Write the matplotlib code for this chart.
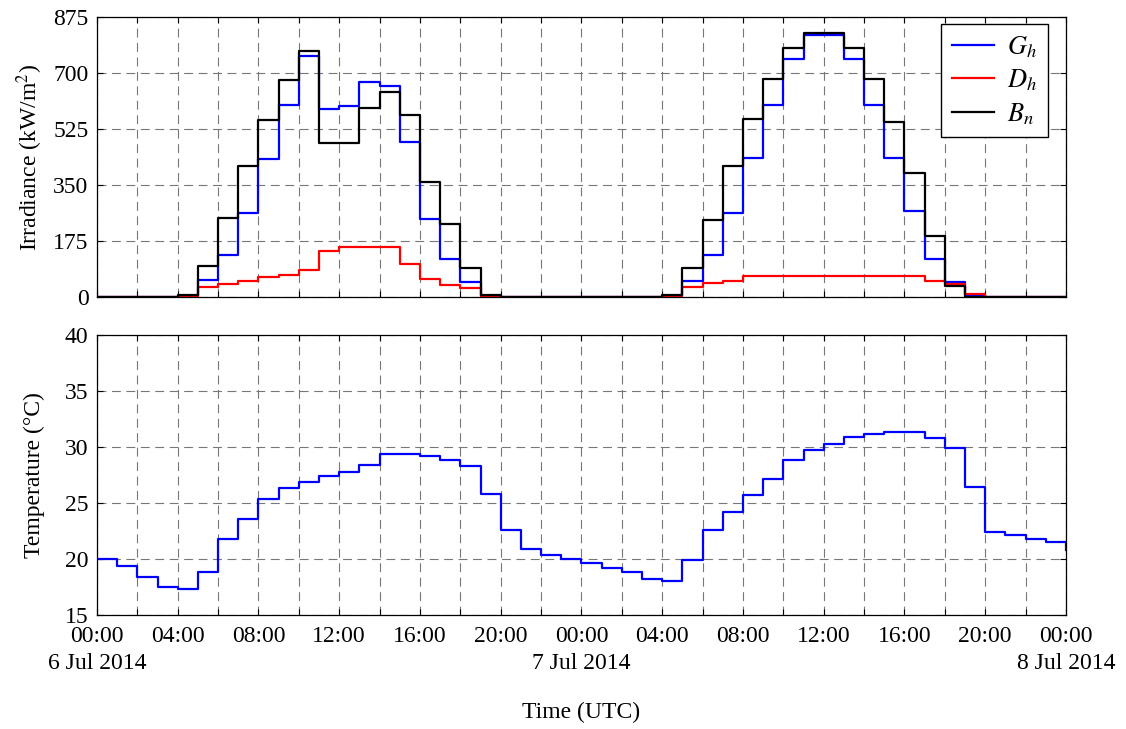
import numpy as np
import matplotlib
matplotlib.use("Agg")
import matplotlib.pyplot as plt

plt.rcParams['font.family'] = ['Liberation Serif', 'DejaVu Serif']
plt.rcParams['mathtext.fontset'] = 'stix'
plt.rcParams['font.size'] = 17

# hourly samples, 6 Jul 2014 00:00 to 8 Jul 2014 00:00 (UTC)
hours = np.arange(49)

Gh = [0, 0, 0, 0, 3, 52, 130, 264, 431, 600, 753, 586, 597, 672, 658, 485, 243, 120, 47, 3, 0, 0, 0, 0,
      0, 0, 0, 0, 3, 50, 130, 264, 433, 600, 745, 820, 820, 743, 600, 433, 269, 118, 48, 6, 0, 0, 0, 0, 0]
Dh = [0, 0, 0, 0, 2, 31, 40, 49, 62, 70, 84, 145, 156, 157, 155, 104, 56, 36, 29, 4, 0, 0, 0, 0,
      0, 0, 0, 0, 2, 31, 44, 50, 65, 67, 67, 67, 67, 67, 67, 67, 67, 50, 40, 10, 0, 0, 0, 0, 0]
Bn = [0, 0, 0, 0, 5, 96, 247, 410, 554, 677, 768, 482, 482, 591, 641, 569, 360, 229, 91, 6, 0, 0, 0, 0,
      0, 0, 0, 0, 5, 91, 240, 410, 556, 681, 779, 825, 825, 777, 681, 548, 389, 190, 35, 0, 0, 0, 0, 0, 0]
temp = [20.0, 19.4, 18.4, 17.5, 17.3, 18.8, 21.8, 23.6, 25.4, 26.3, 26.9, 27.4, 27.8, 28.4, 29.4, 29.4,
        29.2, 28.8, 28.3, 25.8, 22.6, 20.9, 20.4, 20.0,
        19.6, 19.2, 18.8, 18.2, 18.0, 19.9, 22.6, 24.2, 25.7, 27.1, 28.8, 29.7, 30.3, 30.9, 31.2, 31.3,
        31.3, 30.8, 29.9, 26.4, 22.4, 22.1, 21.8, 21.5, 20.8]

irr_ticks = [0, 175, 350, 525, 700, 875]
temp_ticks = [15, 20, 25, 30, 35, 40]
days = ['6 Jul 2014', '7 Jul 2014', '8 Jul 2014']

fig = plt.figure(figsize=(11.26, 7.29), dpi=100)
ax1 = fig.add_axes([0.0861, 0.5926, 0.8606, 0.3841])
ax2 = fig.add_axes([0.0861, 0.1564, 0.8606, 0.3841], sharex=ax1)

ax1.step(hours, Gh, where='post', color='blue', lw=1.6, label='$G_h$')
ax1.step(hours, Dh, where='post', color='red', lw=1.6, label='$D_h$')
ax1.step(hours, Bn, where='post', color='black', lw=1.6, label='$B_n$')
ax2.step(hours, temp, where='post', color='blue', lw=1.6)

# x ticks every 2 h, labels every 4 h, dates under midnights
xt = np.arange(0, 49, 2)
xl = []
for h in xt:
    if h % 4:
        xl.append('')
    elif h % 24 == 0:
        xl.append('00:00\n' + days[h // 24])
    else:
        xl.append('%02d:00' % (h % 24))

for ax in (ax1, ax2):
    ax.set_xlim(0, 48)
    ax.set_xticks(xt)
    ax.grid(True, color='#777777', lw=0.8, linestyle=(0, (8, 5)))
    ax.tick_params(direction='in', top=True, right=True, length=4, width=0.8, pad=6)
    for s in ax.spines.values():
        s.set_linewidth(0.9)
    ax.set_axisbelow(True)

ax1.set_ylim(0, 875)
ax1.set_yticks(irr_ticks)
ax1.tick_params(labelbottom=False)
ax1.set_ylabel('Irradiance (kW/m$^2$)')
ax1.yaxis.set_label_coords(-0.054, 0.5)
ax1.legend(loc='upper right', fancybox=False, edgecolor='black', framealpha=1, fontsize=19,
           handlelength=1.6, handletextpad=0.5, borderaxespad=0.25, labelspacing=0.3,
           bbox_to_anchor=(0.988, 1.0))

ax2.set_ylim(15, 40)
ax2.set_yticks(temp_ticks)
ax2.set_xticklabels(xl, linespacing=1.4)
ax2.tick_params(axis='x', pad=8)
ax2.set_ylabel('Temperature (°C)')
ax2.yaxis.set_label_coords(-0.054, 0.5)
ax2.set_xlabel('Time (UTC)', labelpad=20)

fig.savefig('out.png', dpi=100)
